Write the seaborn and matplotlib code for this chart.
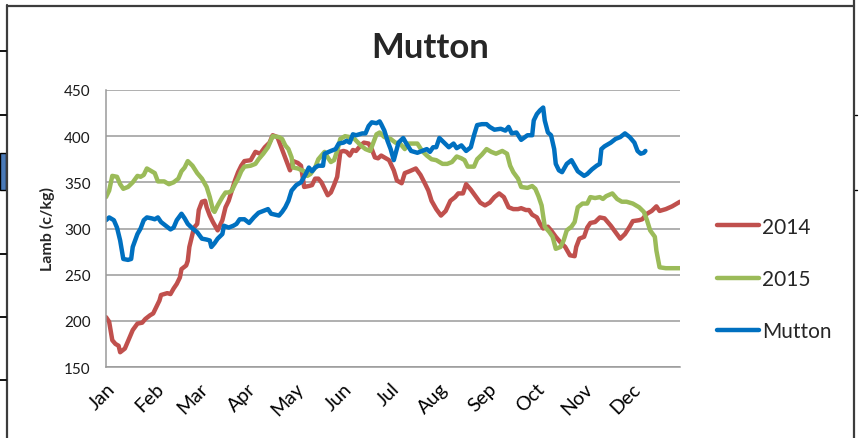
import matplotlib
matplotlib.use("Agg")
import matplotlib.pyplot as plt
from matplotlib.lines import Line2D
from matplotlib.patches import Rectangle
from matplotlib.ticker import MultipleLocator
import numpy as np
import pandas as pd
import seaborn as sns

# day of year -> price (c/kg)
red_day = [0, 2, 4, 6, 8, 9, 12, 15, 17, 20, 23, 25, 28, 30, 32, 34, 35, 39, 41, 43, 45, 47, 48, 51, 52, 53,
           55, 56, 58, 59, 61, 63, 64, 66, 68, 71, 74, 76, 78, 80, 82, 84, 86, 88, 92, 95, 98, 101, 104, 106,
           109, 111, 113, 115, 117, 119, 122, 124, 126, 129, 131, 133, 135, 137, 139, 141, 143, 145, 147, 149,
           151, 153, 155, 157, 159, 162, 164, 167, 169, 171, 173, 175, 177, 180, 183, 185, 188, 190, 193, 197,
           200, 203, 205, 207, 210, 213, 216, 219, 222, 224, 227, 229, 232, 235, 238, 241, 244, 247, 250, 253,
           256, 259, 262, 264, 267, 269, 271, 274, 276, 278, 281, 283, 286, 289, 292, 295, 298, 299, 301, 304,
           306, 308, 311, 314, 317, 321, 324, 327, 330, 333, 335, 339, 341, 344, 347, 350, 352, 356, 360, 363,
           365]
red_val = [204, 199, 179, 175, 173, 166, 170, 182, 190, 197, 198, 202, 206, 208, 215, 222, 228, 230, 229, 235,
           240, 247, 256, 260, 265, 280, 294, 301, 305, 320, 329, 330, 323, 314, 307, 298, 309, 323, 330, 341,
           352, 361, 368, 373, 374, 383, 381, 388, 393, 401, 399, 390, 381, 372, 363, 373, 371, 368, 345, 346,
           347, 354, 354, 350, 343, 336, 339, 347, 356, 383, 384, 383, 379, 385, 384, 390, 393, 392, 386, 377,
           376, 379, 377, 374, 363, 352, 349, 360, 362, 365, 358, 348, 341, 330, 321, 314, 319, 330, 334, 338,
           338, 348, 342, 335, 328, 325, 328, 334, 338, 334, 323, 321, 321, 322, 320, 320, 315, 312, 305, 300,
           302, 298, 291, 285, 280, 271, 270, 280, 289, 291, 301, 306, 307, 312, 311, 303, 296, 289, 294, 302,
           308, 309, 310, 316, 319, 324, 319, 321, 324, 327, 329]

green_day = [0, 2, 4, 7, 9, 11, 14, 17, 20, 22, 24, 26, 28, 31, 33, 37, 40, 43, 46, 48, 50, 52, 55, 58, 61,
             64, 66, 68, 69, 71, 74, 76, 78, 80, 82, 84, 86, 88, 92, 95, 97, 100, 103, 106, 110, 112, 114, 116,
             118, 119, 122, 126, 128, 130, 133, 135, 137, 139, 141, 143, 145, 147, 149, 152, 155, 158, 162, 165,
             168, 170, 172, 174, 177, 181, 184, 187, 190, 192, 196, 198, 201, 204, 207, 210, 214, 217, 220, 223,
             226, 228, 230, 234, 236, 239, 242, 245, 248, 252, 255, 257, 259, 262, 264, 268, 271, 273, 275, 277,
             279, 282, 284, 286, 289, 291, 293, 296, 298, 300, 303, 306, 308, 311, 314, 316, 318, 322, 325, 328,
             331, 335, 339, 342, 344, 346, 349, 350, 352, 356, 362, 365]
green_val = [334, 341, 357, 356, 348, 343, 345, 350, 357, 356, 358, 365, 363, 360, 351, 351, 348, 350, 354, 362,
             366, 373, 368, 360, 354, 345, 334, 320, 318, 325, 334, 339, 339, 341, 348, 354, 362, 367, 368, 370,
             375, 381, 388, 400, 399, 397, 390, 386, 377, 366, 365, 362, 357, 359, 366, 375, 379, 383, 377, 372,
             374, 384, 397, 400, 399, 397, 390, 386, 384, 393, 402, 404, 399, 397, 393, 392, 386, 392, 392, 392,
             384, 379, 375, 374, 370, 370, 372, 378, 376, 374, 367, 367, 375, 380, 386, 383, 381, 384, 381, 368,
             361, 354, 345, 344, 346, 343, 335, 325, 302, 296, 291, 278, 280, 287, 298, 302, 307, 323, 327, 327,
             334, 333, 334, 332, 335, 338, 332, 329, 329, 327, 323, 318, 309, 298, 291, 276, 258, 257, 257, 257]

mutton_day = [0, 2, 5, 7, 9, 11, 14, 16, 17, 20, 22, 24, 26, 29, 31, 33, 35, 38, 41, 43, 45, 48, 50, 52, 55,
              58, 61, 64, 66, 67, 69, 71, 74, 75, 78, 81, 83, 85, 88, 91, 94, 97, 100, 103, 105, 110, 112, 114,
              116, 118, 121, 124, 127, 129, 131, 133, 135, 138, 139, 143, 146, 148, 151, 153, 155, 157, 159, 163,
              165, 167, 169, 172, 174, 175, 177, 179, 181, 183, 186, 189, 191, 194, 198, 201, 204, 206, 208, 210,
              212, 215, 218, 221, 223, 226, 229, 232, 234, 236, 239, 242, 244, 247, 251, 254, 256, 258, 261, 264,
              268, 271, 272, 274, 276, 278, 279, 281, 283, 285, 286, 288, 290, 293, 296, 298, 300, 304, 306, 309,
              312, 314, 315, 317, 321, 324, 327, 330, 333, 336, 338, 340, 342, 343]
mutton_val = [309, 312, 309, 301, 287, 267, 266, 267, 280, 294, 300, 309, 312, 311, 310, 312, 307, 303, 299, 301,
              309, 316, 311, 305, 300, 296, 289, 288, 287, 280, 284, 289, 294, 303, 301, 303, 305, 310, 310, 306,
              312, 317, 319, 321, 316, 314, 318, 323, 330, 341, 347, 350, 359, 366, 362, 366, 368, 368, 381, 384,
              386, 392, 393, 395, 393, 402, 401, 403, 403, 411, 415, 414, 416, 413, 406, 395, 386, 374, 393, 398,
              392, 384, 382, 384, 386, 383, 388, 388, 398, 393, 388, 392, 387, 390, 384, 388, 401, 412, 413, 413,
              410, 407, 408, 406, 410, 403, 404, 396, 401, 401, 417, 424, 428, 431, 417, 404, 401, 386, 370, 363,
              361, 370, 374, 368, 362, 357, 359, 364, 368, 370, 386, 389, 393, 397, 399, 403, 399, 393, 384, 381,
              382, 384]

series_names = ["2014", "2015", "Mutton"]
series_colors = ["#C0504D", "#9BBB59", "#0070C0"]
month_starts = [0, 31, 59, 90, 120, 151, 181, 212, 243, 273, 304, 334]
month_labels = ["Jan", "Feb", "Mar", "Apr", "May", "Jun", "Jul", "Aug", "Sep", "Oct", "Nov", "Dec"]

df = pd.concat([
    pd.DataFrame({"day": red_day, "price": red_val, "series": "2014"}),
    pd.DataFrame({"day": green_day, "price": green_val, "series": "2015"}),
    pd.DataFrame({"day": mutton_day, "price": mutton_val, "series": "Mutton"}),
], ignore_index=True)

sns.set_style("white")
plt.rcParams["font.family"] = ["Lato", "DejaVu Sans"]

fig = plt.figure(figsize=(8.6, 4.39), dpi=100)
ax = fig.add_axes([106 / 860, 1 - 368 / 439, 574 / 860, 277 / 439])

sns.lineplot(data=df, x="day", y="price", hue="series", hue_order=series_names,
             palette=dict(zip(series_names, series_colors)), estimator=None,
             linewidth=3.2, ax=ax)

grid_col = "#9a9a9a"
ax.set_xlim(0, 365)
ax.set_ylim(150, 450)
ax.yaxis.set_major_locator(MultipleLocator(50))
ax.yaxis.set_minor_locator(MultipleLocator(10))
ax.grid(axis="y", color=grid_col, linewidth=1.1)
ax.set_axisbelow(True)
for s in ["top", "right"]:
    ax.spines[s].set_visible(False)
for s in ["left", "bottom"]:
    ax.spines[s].set_color(grid_col)
    ax.spines[s].set_linewidth(1.1)

ax.set_xticks(month_starts)
ax.set_xticklabels(month_labels, rotation=45, ha="right", rotation_mode="anchor")
ax.tick_params(axis="x", length=0, pad=9, labelsize=14, colors="#000000")
ax.tick_params(axis="y", which="major", direction="inout", length=7, width=1,
               color=grid_col, pad=7.5, labelsize=11, labelcolor="#1a1a1a")
ax.tick_params(axis="y", which="minor", direction="inout", length=4, width=1, color=grid_col)
ax.set_xlabel("")
ax.set_ylabel("")

fig.text(47 / 860, 1 - 229 / 439, "Lamb (c/kg)", rotation=90, ha="center", va="center",
         fontsize=11.5, fontweight="bold")
fig.text(430 / 860, 1 - 48 / 439, "Mutton", ha="center", va="center", fontsize=25,
         fontweight="bold")

handles, labels = ax.get_legend_handles_labels()
ax.legend(handles, labels, loc="center left", bbox_to_anchor=(717 / 860, 1 - 280 / 439),
          bbox_transform=fig.transFigure, frameon=False, fontsize=15, handlelength=2.0,
          handletextpad=0.15, labelspacing=1.55, borderpad=0, borderaxespad=0)

# surrounding spreadsheet frame
frame_col = "#3c3c3c"
fig.add_artist(Line2D([6.5 / 860, 6.5 / 860], [0, 1 - 6 / 439], transform=fig.transFigure,
                      color=frame_col, lw=1.6))
fig.add_artist(Line2D([6.5 / 860, 854 / 860], [1 - 6.5 / 439, 1 - 6.5 / 439], transform=fig.transFigure,
                      color=frame_col, lw=1.6))
fig.add_artist(Line2D([854 / 860, 854 / 860], [0, 1], transform=fig.transFigure,
                      color=frame_col, lw=1.6))
for yy in [52, 116, 255, 318, 381]:
    fig.add_artist(Line2D([0, 6 / 860], [1 - yy / 439, 1 - yy / 439], transform=fig.transFigure,
                          color="black", lw=1.3))
fig.add_artist(Rectangle((0, 1 - 191 / 439), 6 / 860, 37 / 439, transform=fig.transFigure,
                         facecolor="#4A7AB8", edgecolor="black", lw=1.0))
for yy in [116, 191]:
    fig.add_artist(Line2D([855 / 860, 857 / 860], [1 - yy / 439, 1 - yy / 439], transform=fig.transFigure,
                          color="black", lw=1.0))

fig.savefig("out.png", dpi=100)
